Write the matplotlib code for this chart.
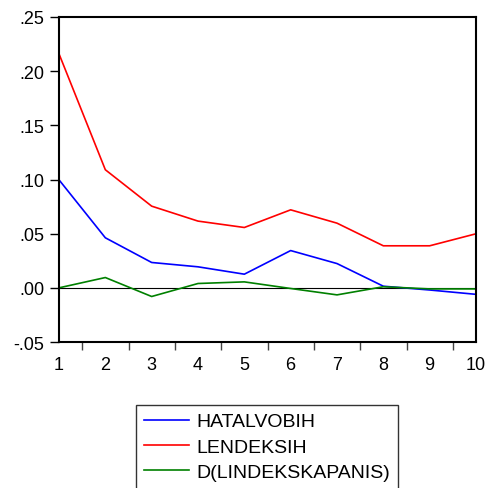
import matplotlib
matplotlib.use("Agg")
import matplotlib.pyplot as plt
from matplotlib.ticker import FixedLocator, FixedFormatter

plt.rcParams['font.family'] = ['Liberation Sans', 'DejaVu Sans']

periods = [1, 2, 3, 4, 5, 6, 7, 8, 9, 10]
hatalvobih = [0.0997, 0.0462, 0.0234, 0.0194, 0.0126, 0.0344, 0.0224, 0.0015, -0.0020, -0.0060]
lendeksih = [0.2160, 0.1090, 0.0754, 0.0616, 0.0557, 0.0720, 0.0597, 0.0388, 0.0388, 0.0499]
d_lindekskapanis = [0.0000, 0.0095, -0.0080, 0.0040, 0.0055, -0.0006, -0.0065, 0.0010, -0.0010, -0.0010]

y_ticks = [-0.05, 0.00, 0.05, 0.10, 0.15, 0.20, 0.25]
y_labels = ['-.05', '.00', '.05', '.10', '.15', '.20', '.25']

W, H = 490, 489
fig = plt.figure(figsize=(W / 100, H / 100), dpi=100)
ax = fig.add_axes([59 / W, 1 - 343 / H, (476 - 59) / W, (343 - 18) / H])

lw = 1.2
ax.axhline(0, color='black', lw=0.8, zorder=1)
ax.plot(periods, hatalvobih, color='#0000ff', lw=lw, label='HATALVOBIH')
ax.plot(periods, lendeksih, color='#ff0000', lw=lw, label='LENDEKSIH')
ax.plot(periods, d_lindekskapanis, color='#008000', lw=lw, label='D(LINDEKSKAPANIS)')

ax.set_xlim(1, 10)
ax.set_ylim(-0.05, 0.25)

ax.yaxis.set_major_locator(FixedLocator(y_ticks))
ax.yaxis.set_major_formatter(FixedFormatter(y_labels))
ax.xaxis.set_major_locator(FixedLocator(periods))
ax.xaxis.set_major_formatter(FixedFormatter([str(p) for p in periods]))
ax.xaxis.set_minor_locator(FixedLocator([p + 0.5 for p in periods[:-1]]))

ax.tick_params(axis='y', direction='out', length=6.5, width=1, pad=4, labelsize=13)
ax.tick_params(axis='x', which='major', length=0, pad=10, labelsize=13)
ax.tick_params(axis='x', which='minor', direction='out', length=5.5, width=1, color='#444444')

for s in ax.spines.values():
    s.set_linewidth(1.5)
    s.set_color('black')

leg = fig.legend(loc='upper left', bbox_to_anchor=(136 / W, 1 - 406 / H),
                 fontsize=14, frameon=True, fancybox=False, shadow=False,
                 handlelength=2.3, handletextpad=0.4, borderpad=0.4,
                 labelspacing=0.4, borderaxespad=0)
leg.get_frame().set_edgecolor('black')
leg.get_frame().set_linewidth(1.0)
for line in leg.get_lines():
    line.set_linewidth(1.2)

fig.savefig('out.png', dpi=100)
